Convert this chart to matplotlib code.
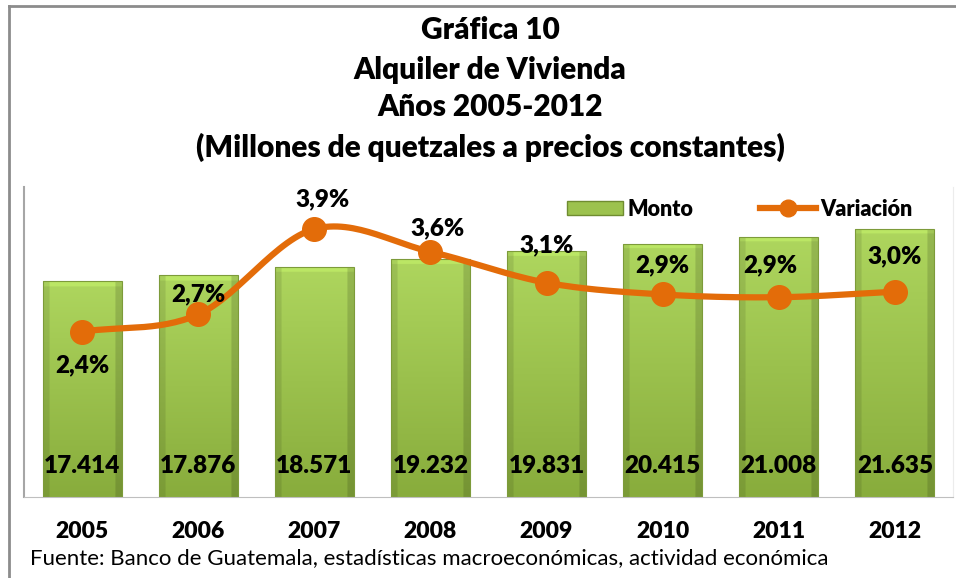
import numpy as np
import matplotlib.pyplot as plt
from matplotlib.lines import Line2D
from matplotlib.patches import Rectangle

years = ['2005', '2006', '2007', '2008', '2009', '2010', '2011', '2012']
monto = [17.414, 17.876, 18.571, 19.232, 19.831, 20.415, 21.008, 21.635]
variacion = [2.4, 2.65, 3.89, 3.56, 3.11, 2.94, 2.90, 2.98]
var_labels = ['2,4%', '2,7%', '3,9%', '3,6%', '3,1%', '2,9%', '2,9%', '3,0%']
monto_labels = ['17.414', '17.876', '18.571', '19.232', '19.831', '20.415', '21.008', '21.635']
title_lines = ['Gráfica 10', 'Alquiler de Vivienda', 'Años 2005-2012',
               '(Millones de quetzales a precios constantes)']
fuente = 'Fuente: Banco de Guatemala, estadísticas macroeconómicas, actividad económica'

# label offsets (pixels) relative to each point
lbl_off = [(0, -34), (0, 20), (8, 30), (7, 23), (0, 37), (0, 29), (-8, 32), (0, 35)]

plt.rcParams['font.family'] = ['Lato', 'DejaVu Sans']
orange = '#E36C09'
BW = 'heavy'

fig = plt.figure(figsize=(9.56, 5.78), dpi=100)
W, H = 956, 578

# outer frame (top and left)
fig.add_artist(Line2D([9 / W, 1], [1 - 6 / H, 1 - 6 / H], color='#8c8c8c', lw=2))
fig.add_artist(Line2D([9 / W, 9 / W], [0, 1 - 6 / H], color='#8c8c8c', lw=2))

ax = fig.add_axes([24 / W, (H - 497) / H, (953 - 24) / W, 310 / H])
x = np.arange(len(years))
bw = 0.68

bars = ax.bar(x, monto, width=bw, color='none', edgecolor='#7d9b3a', linewidth=0.8, zorder=3)

# bevelled gradient fill
top_c = np.array([174, 214, 94]) / 255
bot_c = np.array([136, 172, 60]) / 255
for b, h in zip(bars, monto):
    ny, nx = 200, 60
    t = np.linspace(0, 1, ny)[:, None]
    base = top_c * (1 - t[..., None]) + bot_c * t[..., None]
    base = np.repeat(base, nx, axis=1)
    xs = np.linspace(0, 1, nx)
    edge = np.ones(nx)
    edge[xs < 0.07] = 0.9
    edge[xs > 0.93] = 0.86
    img = base * edge[None, :, None]
    # lighter top bevel
    ntop = int(ny * 6 / (h * 12.4))
    img[:max(ntop, 1)] = np.clip(img[:max(ntop, 1)] * 1.08, 0, 1)
    im = ax.imshow(img, extent=[b.get_x(), b.get_x() + bw, 0, h], aspect='auto',
                   zorder=2, interpolation='bilinear')
    im.set_clip_path(b)

for xi, lab in zip(x, monto_labels):
    ax.text(xi, 2.5, lab, ha='center', va='center', fontsize=17.5, fontweight=BW,
            color='black', zorder=4)

ax.set_xlim(-0.5, len(years) - 0.5)
ax.set_ylim(0, 25)
ax.set_yticks([])
ax.set_xticks([])
ax.spines['top'].set_visible(False)
ax.spines['left'].set_color('#a6a6a6')
ax.spines['left'].set_linewidth(1.5)
ax.spines['bottom'].set_color('#bfbfbf')
ax.spines['right'].set_color('#ececec')

for xi, yr in zip(x, years):
    ax.text(xi, -2.8, yr, ha='center', va='center', fontsize=16.5, fontweight=BW)

ax2 = ax.twinx()
ax2.set_ylim(0, 4.5)
ax2.set_yticks([])
for s in ax2.spines.values():
    s.set_visible(False)


# smooth curve (Catmull-Rom) through the points
def catmull(px, py, n=30):
    P = np.column_stack([np.asarray(px, float), np.asarray(py, float)])
    P = np.vstack([2 * P[0] - P[1], P, 2 * P[-1] - P[-2]])
    out = []
    for i in range(1, len(P) - 2):
        p0, p1, p2, p3 = P[i - 1], P[i], P[i + 1], P[i + 2]
        for tt in np.linspace(0, 1, n, endpoint=False):
            t2, t3 = tt * tt, tt * tt * tt
            pt = 0.5 * ((2 * p1) + (-p0 + p2) * tt + (2 * p0 - 5 * p1 + 4 * p2 - p3) * t2
                        + (-p0 + 3 * p1 - 3 * p2 + p3) * t3)
            out.append(pt)
    out.append(P[-2])
    out = np.array(out)
    return out[:, 0], out[:, 1]


cx, cy = catmull(x, variacion)
ax2.plot(cx, cy, color=orange, lw=4.5, solid_capstyle='round', zorder=5)
ax2.plot(x, variacion, 'o', color=orange, markersize=17, zorder=6)

for xi, v, lab, off in zip(x, variacion, var_labels, lbl_off):
    ax2.annotate(lab, (xi, v), xytext=off, textcoords='offset pixels', ha='center',
                 va='center', fontsize=17.5, fontweight=BW, zorder=7)

# legend
leg_handles = [Rectangle((0, 0), 1, 1, facecolor='#9cc24e', edgecolor='#6f8c30', lw=1),
               Line2D([0], [0], color=orange, lw=4.5, marker='o', markersize=12)]
ax2.legend(leg_handles, ['Monto', 'Variación'], loc='upper right', ncol=2, frameon=False,
           bbox_to_anchor=(0.977, 1.025), prop={'weight': BW, 'size': 15.5},
           handlelength=2.6, handleheight=0.6, handletextpad=0.2, columnspacing=3.1)

for i, line in enumerate(title_lines):
    fig.text(490 / W, 1 - [30, 70, 107, 147][i] / H, line, ha='center', va='center',
             fontsize=21.5, fontweight=BW)

fig.text(30 / W, 1 - 558 / H, fuente, ha='left', va='center', fontsize=16)

fig.savefig('out.png', dpi=100)
